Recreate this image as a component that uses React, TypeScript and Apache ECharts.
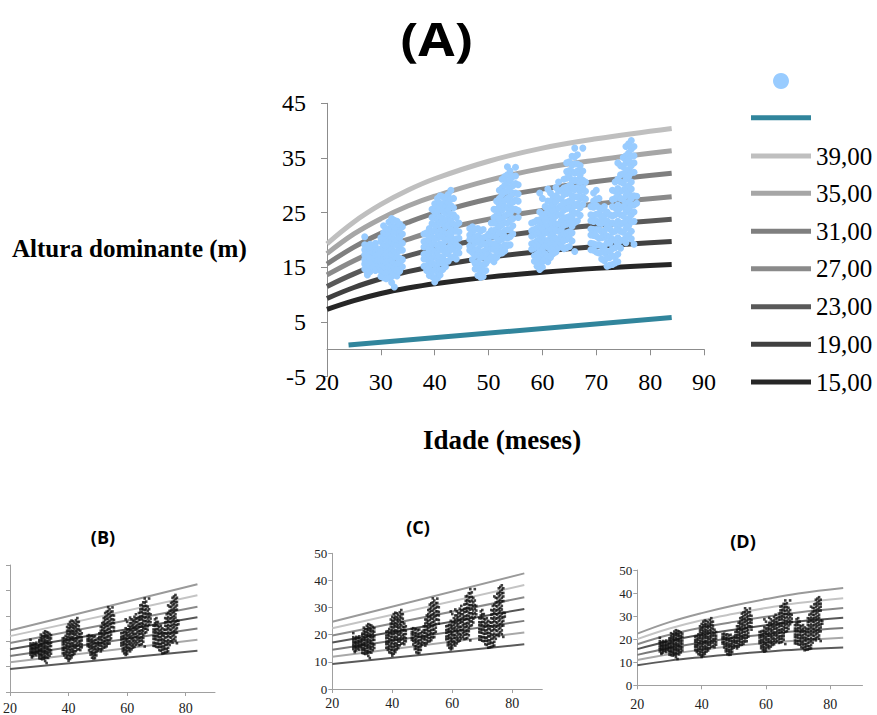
import React, { useEffect, useRef } from 'react';
import * as echarts from 'echarts';

// ---------- data ----------
const siteLabels = ['39,00', '35,00', '31,00', '27,00', '23,00', '19,00', '15,00'];
const mainColors = ['#bfbfbf', '#a6a6a6', '#7f7f7f', '#8a8a8a', '#595959', '#404040', '#262626'];
const subColors = ['#9a9a9a', '#c4c4c4', '#8a8a8a', '#555555', '#7a7a7a', '#a8a8a8', '#5a5a5a'];

// main panel (A): guide curves
const mainAges = [20, 25, 30, 35, 40, 50, 60, 70, 84];
const mainCurve39 = [19.3, 23.3, 26.5, 29.1, 31.2, 34.4, 36.8, 38.5, 40.4];
const mainCurve35 = [17.5, 21.1, 23.9, 26.2, 28.0, 30.9, 33.1, 34.6, 36.3];
const mainCurve31 = [15.6, 18.7, 21.2, 23.2, 24.9, 27.5, 29.3, 30.7, 32.2];
const mainCurve27 = [13.6, 16.2, 18.4, 20.1, 21.6, 23.8, 25.4, 26.6, 27.9];
const mainCurve23 = [11.5, 13.8, 15.7, 17.1, 18.4, 20.3, 21.7, 22.7, 23.8];
const mainCurve19 = [9.3, 11.3, 12.9, 14.2, 15.2, 16.8, 17.9, 18.8, 19.7];
const mainCurve15 = [7.3, 8.9, 10.2, 11.2, 12.0, 13.2, 14.1, 14.8, 15.5];
const mainCurves = [mainCurve39, mainCurve35, mainCurve31, mainCurve27, mainCurve23, mainCurve19, mainCurve15];

const tealAges = [24, 84];
const tealHeights = [0.8, 5.8];

// observed dominant heights, grouped by age column (months)
const obsAges = [
  27, 27.5, 28, 28.5, 29, 29.5, 30, 30.5, 31, 31.5, 32, 32.5, 33, 33.5, 34,
  38, 38.5, 39, 39.5, 40, 40.5, 41, 41.5, 42, 42.5, 43, 43.5, 44, 44.5,
  46.5, 47, 47.5, 48, 48.5, 49, 49.5, 50, 50.5, 51, 51.5, 52, 52.5, 53, 53.5, 54, 54.5, 55, 55.5,
  58, 58.5, 59, 59.5, 60, 60.5, 61, 61.5, 62, 62.5, 63, 63.5, 64, 64.5, 65, 65.5, 66, 66.5, 67, 67.5, 68,
  69, 69.5, 70, 70.5, 71, 71.5, 72, 72.5, 73, 73.5, 74, 74.5, 75, 75.5, 76, 76.5, 77, 77.5,
];
const obsHeights = [
  [20.6, 19.1, 18.2, 17.3, 16.4, 15.6, 14.7],
  [18.6, 17.4, 16.9, 15.9, 15.3, 14.1, 13.6],
  [19.2, 18.4, 17.4, 16.7, 15.7, 15.1, 14.2],
  [18.9, 17.7, 16.8, 15.8, 14.9],
  [19.4, 18.7, 17.7, 17.1, 16.1, 15.4, 14.4],
  [18.1, 17.2, 16.2, 15.4],
  [20.4, 19.7, 18.4, 17.8, 16.7, 16.1, 15.0, 14.3, 13.3],
  [22.6, 21.3, 20.3, 19.0, 18.1, 16.9, 16.2, 15.1, 14.4, 13.1],
  [22.1, 20.9, 20.0, 18.7, 17.9, 16.8, 15.9, 14.7, 13.9, 12.9],
  [23.3, 22.0, 21.1, 19.9, 19.1, 17.9, 17.1, 15.9, 15.1, 13.9, 13.1],
  [23.9, 22.7, 21.8, 20.5, 19.6, 18.3, 17.4, 16.2, 15.3, 14.1, 13.3, 12.2],
  [23.6, 22.3, 21.4, 20.1, 19.2, 17.9, 17.0, 15.7, 14.9, 13.6, 11.4],
  [23.4, 22.1, 21.2, 19.9, 19.0, 17.7, 16.8, 15.5, 14.6, 13.4],
  [22.9, 21.4, 20.4, 19.1, 18.1, 16.7, 15.7, 14.3],
  [22.4, 21.1, 19.4, 18.1, 16.4, 15.1],
  [21.1, 19.7, 18.7, 17.4, 16.5, 15.2],
  [21.3, 19.9, 18.9, 17.5, 16.6, 15.3, 14.4],
  [22.1, 20.7, 19.7, 18.3, 17.3, 15.9, 14.9, 13.5],
  [25.6, 24.1, 23.0, 21.5, 20.5, 19.1, 18.1, 16.7, 15.7, 14.3, 13.3],
  [26.6, 25.1, 24.1, 22.7, 21.7, 20.3, 19.3, 17.9, 16.9, 15.5, 14.5, 13.1, 12.3],
  [27.6, 26.1, 25.1, 23.7, 22.7, 21.3, 20.3, 18.9, 17.9, 16.5, 15.5, 14.1, 13.0],
  [28.1, 26.7, 25.7, 24.2, 23.1, 21.7, 20.7, 19.3, 18.3, 16.9, 15.9, 14.5, 13.6],
  [27.9, 26.4, 25.3, 23.9, 22.9, 21.5, 20.5, 19.1, 18.1, 16.7, 15.7, 14.6],
  [27.3, 25.9, 24.9, 23.4, 22.4, 20.9, 19.9, 18.5, 17.5, 16.1, 15.1],
  [28.3, 26.7, 25.5, 23.9, 22.7, 21.2, 20.1, 18.6, 17.5, 16.1],
  [29.1, 27.5, 26.3, 24.7, 23.5, 21.9, 20.8, 19.3, 18.2, 16.7],
  [27.6, 25.9, 24.6, 22.9, 21.6, 19.9, 18.6, 16.9],
  [24.1, 22.7, 21.6, 20.2, 19.1, 17.7, 16.5],
  [23.1, 21.5, 20.3, 18.7, 17.6],
  [22.1, 20.9, 20.1, 18.9, 18.1],
  [22.4, 21.1, 20.1, 18.7, 17.7, 16.4],
  [21.9, 20.5, 19.5, 18.1, 17.1, 15.7, 14.7],
  [22.1, 20.7, 19.7, 18.3, 17.3, 15.9, 14.9, 13.5],
  [21.6, 20.1, 19.1, 17.7, 16.7, 15.3, 14.3, 13.2],
  [21.9, 20.4, 19.3, 17.9, 16.9, 15.5, 14.5, 13.3],
  [20.6, 19.1, 18.1, 16.7, 15.7, 14.4],
  [21.1, 19.7, 18.7, 17.3, 16.3],
  [23.1, 21.7, 20.7, 19.3, 18.3, 16.9],
  [25.6, 24.1, 23.1, 21.7, 20.7, 19.3, 18.3, 16.9, 16.0],
  [27.1, 25.6, 24.5, 23.0, 21.9, 20.4, 19.3, 17.9, 16.8],
  [29.1, 27.6, 26.5, 25.0, 23.9, 22.4, 21.3, 19.9, 18.8, 17.5],
  [31.1, 29.5, 28.3, 26.7, 25.5, 23.9, 22.8, 21.3, 20.2, 18.7, 17.6],
  [31.6, 30.0, 28.8, 27.2, 26.0, 24.4, 23.2, 21.7, 20.6, 19.1, 18.0],
  [33.4, 31.9, 30.6, 28.9, 27.6, 25.9, 24.7, 23.1, 21.9, 20.3, 19.0],
  [32.6, 30.9, 29.6, 27.9, 26.6, 24.9, 23.6, 21.9, 20.6, 19.1],
  [31.6, 29.9, 28.6, 26.9, 25.6, 23.9, 22.6, 21.1],
  [33.3, 31.7, 30.3, 28.6, 27.3, 25.6],
  [30.1, 28.4, 27.1, 25.4, 24.1],
  [23.1, 21.7, 20.7, 19.3, 18.3],
  [23.3, 21.9, 20.9, 19.5, 18.5, 17.1, 16.1],
  [23.6, 22.2, 21.2, 19.8, 18.8, 17.4, 16.4, 15.2],
  [28.6, 25.1, 23.7, 22.7, 21.3, 20.3, 18.9, 17.9, 16.5, 15.5, 14.6],
  [27.6, 24.6, 23.2, 22.2, 20.8, 19.8, 18.4, 17.4, 16.0, 15.0],
  [26.1, 24.7, 23.7, 22.3, 21.3, 19.9, 18.9, 17.5, 16.5],
  [29.3, 27.1, 25.5, 24.3, 22.7, 21.5, 19.9, 18.7, 17.1, 16.0],
  [28.6, 27.1, 26.0, 24.5, 23.4, 21.9, 20.8, 19.3, 18.2, 16.8],
  [27.9, 26.4, 25.3, 23.8, 22.7, 21.2, 20.1, 18.6, 17.5],
  [29.6, 28.1, 27.0, 25.5, 24.4, 22.9, 21.8, 20.3, 19.2, 17.8],
  [30.6, 28.9, 27.6, 25.9, 24.6, 22.9, 21.6, 19.9, 18.6],
  [29.1, 27.5, 26.3, 24.7, 23.5, 21.9, 20.7, 19.2],
  [31.1, 29.5, 28.3, 26.7, 25.5, 23.9, 22.7, 21.1, 19.9, 18.4],
  [34.1, 32.5, 31.3, 29.7, 28.5, 26.9, 25.7, 24.1, 22.9, 21.3, 20.1, 18.6],
  [34.3, 32.7, 31.5, 29.9, 28.7, 27.1, 25.9, 24.3, 23.1, 21.5, 20.3, 18.8],
  [35.3, 33.7, 32.5, 30.9, 29.7, 28.1, 26.9, 25.3, 24.1, 22.5, 21.3, 19.8],
  [36.8, 35.2, 33.9, 32.2, 30.9, 29.2, 27.9, 26.2, 24.9, 23.2, 17.9],
  [35.6, 33.9, 32.6, 30.9, 29.6, 27.9, 26.6, 24.9, 23.5],
  [33.6, 31.9, 30.6, 28.9, 27.6, 25.9, 24.5],
  [36.8, 32.6, 30.9, 29.6, 27.9, 26.5],
  [30.6, 28.9, 27.5],
  [26.1, 24.6, 23.5, 22.0, 20.9, 19.4, 18.2],
  [28.6, 27.1, 26.0, 24.5, 23.4, 21.9, 20.8, 19.3, 18.1],
  [29.1, 27.5, 26.3, 24.7, 23.5, 21.9, 20.7, 19.1, 17.8],
  [27.6, 25.9, 24.7, 23.1, 21.9, 20.3, 19.1, 17.6],
  [25.6, 24.1, 23.0, 21.5, 20.4, 18.9, 17.8, 16.5],
  [26.1, 24.5, 23.3, 21.7, 20.5, 18.9, 17.7, 16.2],
  [25.1, 23.5, 22.3, 20.7, 19.5, 17.9, 16.7, 15.2],
  [24.6, 23.1, 22.0, 20.5, 19.4, 17.9, 16.8, 15.4],
  [29.1, 27.4, 26.1, 24.4, 23.1, 21.4, 20.1, 18.4, 17.1, 15.5],
  [30.6, 28.9, 27.6, 25.9, 24.6, 22.9, 21.6, 19.9, 18.6, 16.9, 15.8],
  [34.1, 31.1, 29.4, 28.1, 26.4, 25.1, 23.4, 22.1, 20.4, 19.1, 17.4, 16.0],
  [33.6, 31.9, 30.6, 28.9, 27.6, 25.9, 24.6, 22.9, 21.6, 19.9, 18.5],
  [35.1, 33.4, 32.1, 30.4, 29.1, 27.4, 26.1, 24.4, 23.1, 21.4, 20.0],
  [37.1, 35.4, 34.1, 32.4, 31.1, 29.4, 28.1, 26.4, 25.1, 23.4, 22.1, 20.4, 19.5],
  [37.6, 35.9, 34.6, 32.9, 31.6, 29.9, 28.6, 26.9, 25.6, 23.9, 22.6, 20.9],
  [38.2, 36.6, 35.3, 33.6, 32.3, 30.6, 29.3, 27.6, 26.3, 24.6, 23.3, 21.6, 20.2],
  [37.1, 35.4, 34.1, 32.4, 28.1, 26.4, 25.1, 23.4, 19.2],
  [28.0, 26.7],
];

// panels (B) and (C): straight guide lines, values at ages 20 and 84
const linearAges = [20, 84];
const curvesB = [[24.2, 42.4], [22.0, 38.1], [19.3, 33.6], [16.8, 29.4], [14.2, 25.0], [11.7, 20.6], [9.1, 16.2]];
const curvesC = [[24.8, 42.6], [22.4, 38.3], [19.7, 33.8], [17.1, 29.5], [14.5, 25.1], [11.9, 20.8], [9.2, 16.5]];

// panel (D): curved guide lines
const agesD = [20, 30, 40, 50, 60, 70, 84];
const curvesD = [
  [22.4, 27.4, 31.3, 34.6, 37.4, 39.8, 42.2],
  [20.0, 24.6, 28.2, 31.0, 33.5, 35.7, 37.8],
  [17.8, 21.9, 25.0, 27.5, 29.7, 31.6, 33.5],
  [15.7, 19.2, 22.0, 24.1, 26.0, 27.7, 29.3],
  [13.2, 16.2, 18.6, 20.5, 22.1, 23.5, 24.9],
  [11.0, 13.5, 15.4, 17.0, 18.3, 19.4, 20.6],
  [8.7, 10.7, 12.2, 13.5, 14.6, 15.5, 16.4],
];

const mainYTicks = [-5, 5, 15, 25, 35, 45];
const subXTicks = [20, 40, 60, 80];

// ---------- chart ----------
const SERIF = 'Liberation Serif';
const SANS = 'Open Sans';

function pairs(xs: number[], ys: number[]) {
  return xs.map((x, i) => [x, ys[i]]);
}

export default function App() {
  const ref = useRef<HTMLDivElement>(null);

  useEffect(() => {
    if (!ref.current) return;
    const chart = echarts.init(ref.current, undefined, { renderer: 'svg' });

    const obsData: number[][] = [];
    obsAges.forEach((a, i) => obsHeights[i].forEach((h) => obsData.push([a, h])));

    const axisGray = '#8c8c8c';
    const subGray = '#a0a0a0';

    const grids = [
      { left: 327, top: 103.3, width: 377, height: 273.3 },
      { left: 5, top: 565, width: 210, height: 129.3 },
      { left: 332.3, top: 553.3, width: 210, height: 135.7 },
      { left: 637.3, top: 570, width: 225.2, height: 115.3 },
    ];

    const subX = (gi: number, margin: number) => ({
      type: 'value', gridIndex: gi, min: 20, max: 90,
      splitLine: { show: false },
      axisLine: { lineStyle: { color: subGray, width: 1 } },
      axisTick: { show: true, length: 4, lineStyle: { color: subGray }, customValues: subXTicks },
      axisLabel: { customValues: subXTicks, color: '#222', fontFamily: SERIF, fontSize: 14, margin },
    });
    const subY = (gi: number, showLabel: boolean) => ({
      type: 'value', gridIndex: gi, min: 0, max: 50, interval: 10,
      splitLine: { show: false },
      axisLine: { show: true, lineStyle: { color: subGray, width: 1 } },
      axisTick: { show: true, length: 4, lineStyle: { color: subGray } },
      axisLabel: { show: showLabel, color: '#222', fontFamily: SERIF, fontSize: 13, margin: 5 },
    });

    const series: any[] = [];
    mainCurves.forEach((c, i) => {
      series.push({
        name: siteLabels[i], type: 'line', xAxisIndex: 0, yAxisIndex: 0,
        data: pairs(mainAges, c), smooth: 0.4, symbol: 'none',
        lineStyle: { color: mainColors[i], width: 5 }, itemStyle: { color: mainColors[i] }, z: 2,
      });
    });
    series.push({
      name: 'Linha', type: 'line', xAxisIndex: 0, yAxisIndex: 0,
      data: pairs(tealAges, tealHeights), symbol: 'none',
      lineStyle: { color: '#31859c', width: 5 }, itemStyle: { color: '#31859c' }, z: 2,
    });
    series.push({
      name: 'Observado', type: 'scatter', xAxisIndex: 0, yAxisIndex: 0,
      data: obsData, symbol: 'circle', symbolSize: 7,
      itemStyle: { color: '#99ccff', opacity: 1 }, z: 3,
    });

    const subCurveSets = [
      { gi: 1, ages: linearAges, curves: curvesB },
      { gi: 2, ages: linearAges, curves: curvesC },
      { gi: 3, ages: agesD, curves: curvesD },
    ];
    subCurveSets.forEach(({ gi, ages, curves }) => {
      curves.forEach((c, i) => {
        series.push({
          name: 'sub' + gi + '_' + i, type: 'line', xAxisIndex: gi, yAxisIndex: gi,
          data: pairs(ages, c), smooth: gi === 3 ? 0.4 : false, symbol: 'none',
          lineStyle: { color: subColors[i], width: 2 }, z: 2,
        });
      });
      series.push({
        name: 'obs' + gi, type: 'scatter', xAxisIndex: gi, yAxisIndex: gi,
        data: obsData, symbol: 'rect', symbolSize: 2.6,
        itemStyle: { color: '#111' }, z: 3,
      });
    });

    const lineLegendY = [118.3, 156, 193.3, 231.3, 268.7, 306.7, 344.3, 382];
    const legendNames = ['Linha', ...siteLabels];
    const legends: any[] = [
      {
        data: [{ name: 'Observado', icon: 'circle' }], left: 768, top: 68,
        orient: 'vertical', itemWidth: 16, itemHeight: 16, selectedMode: false,
        formatter: () => '', textStyle: { fontSize: 1, lineHeight: 1 },
      },
    ];
    legendNames.forEach((n, i) => {
      legends.push({
        data: [{ name: n, icon: 'rect' }], left: 746,
        top: lineLegendY[i] - (i === 0 ? 8 : 18),
        orient: 'vertical', itemWidth: 60, itemHeight: 5, selectedMode: false,
        formatter: (name: string) => (name === 'Linha' ? '' : name),
        textStyle: { fontFamily: SERIF, fontSize: 25, lineHeight: 26, color: '#000' },
      });
    });

    const option: any = {
      animation: false,
      backgroundColor: '#fff',
      grid: grids,
      legend: legends,
      xAxis: [
        {
          type: 'value', gridIndex: 0, min: 20, max: 90, interval: 10,
          splitLine: { show: false },
          axisLine: { onZero: true, lineStyle: { color: axisGray, width: 1 } },
          axisTick: { show: true, length: 6, lineStyle: { color: axisGray } },
          axisLabel: { color: '#000', fontFamily: SERIF, fontSize: 24, margin: -7 },
        },
        subX(1, 9),
        subX(2, 7),
        subX(3, 12),
      ],
      yAxis: [
        {
          type: 'value', gridIndex: 0, min: -5, max: 45,
          splitLine: { show: false },
          axisLine: { show: true, lineStyle: { color: axisGray, width: 1 } },
          axisTick: { show: true, length: 6, lineStyle: { color: axisGray }, customValues: mainYTicks },
          axisLabel: { customValues: mainYTicks, color: '#000', fontFamily: SERIF, fontSize: 24, margin: 21 },
        },
        subY(1, false),
        subY(2, true),
        subY(3, true),
      ],
      series,
      graphic: [
        { type: 'text', x: 436.5, y: 38, scaleX: 1.12, style: { text: '(A)', font: 'bold 47px ' + SANS, fill: '#000', align: 'center', verticalAlign: 'middle' } },
        { type: 'text', x: 12, y: 248, style: { text: 'Altura dominante (m)', font: 'bold 25px ' + SERIF, fill: '#000', align: 'left', verticalAlign: 'middle' } },
        { type: 'text', x: 502, y: 440, style: { text: 'Idade (meses)', font: 'bold 27px ' + SERIF, fill: '#000', align: 'center', verticalAlign: 'middle' } },
        { type: 'text', x: 103, y: 537, style: { text: '(B)', font: 'bold 18px ' + SANS, fill: '#000', align: 'center', verticalAlign: 'middle' } },
        { type: 'text', x: 418, y: 527, style: { text: '(C)', font: 'bold 18px ' + SANS, fill: '#000', align: 'center', verticalAlign: 'middle' } },
        { type: 'text', x: 743, y: 541, style: { text: '(D)', font: 'bold 18px ' + SANS, fill: '#000', align: 'center', verticalAlign: 'middle' } },
      ],
    };

    chart.setOption(option);
    return () => chart.dispose();
  }, []);

  return (
    <div
      ref={ref}
      style={{ position: 'absolute', left: 0, top: 0, width: 877, height: 715, background: '#fff' }}
    />
  );
}
